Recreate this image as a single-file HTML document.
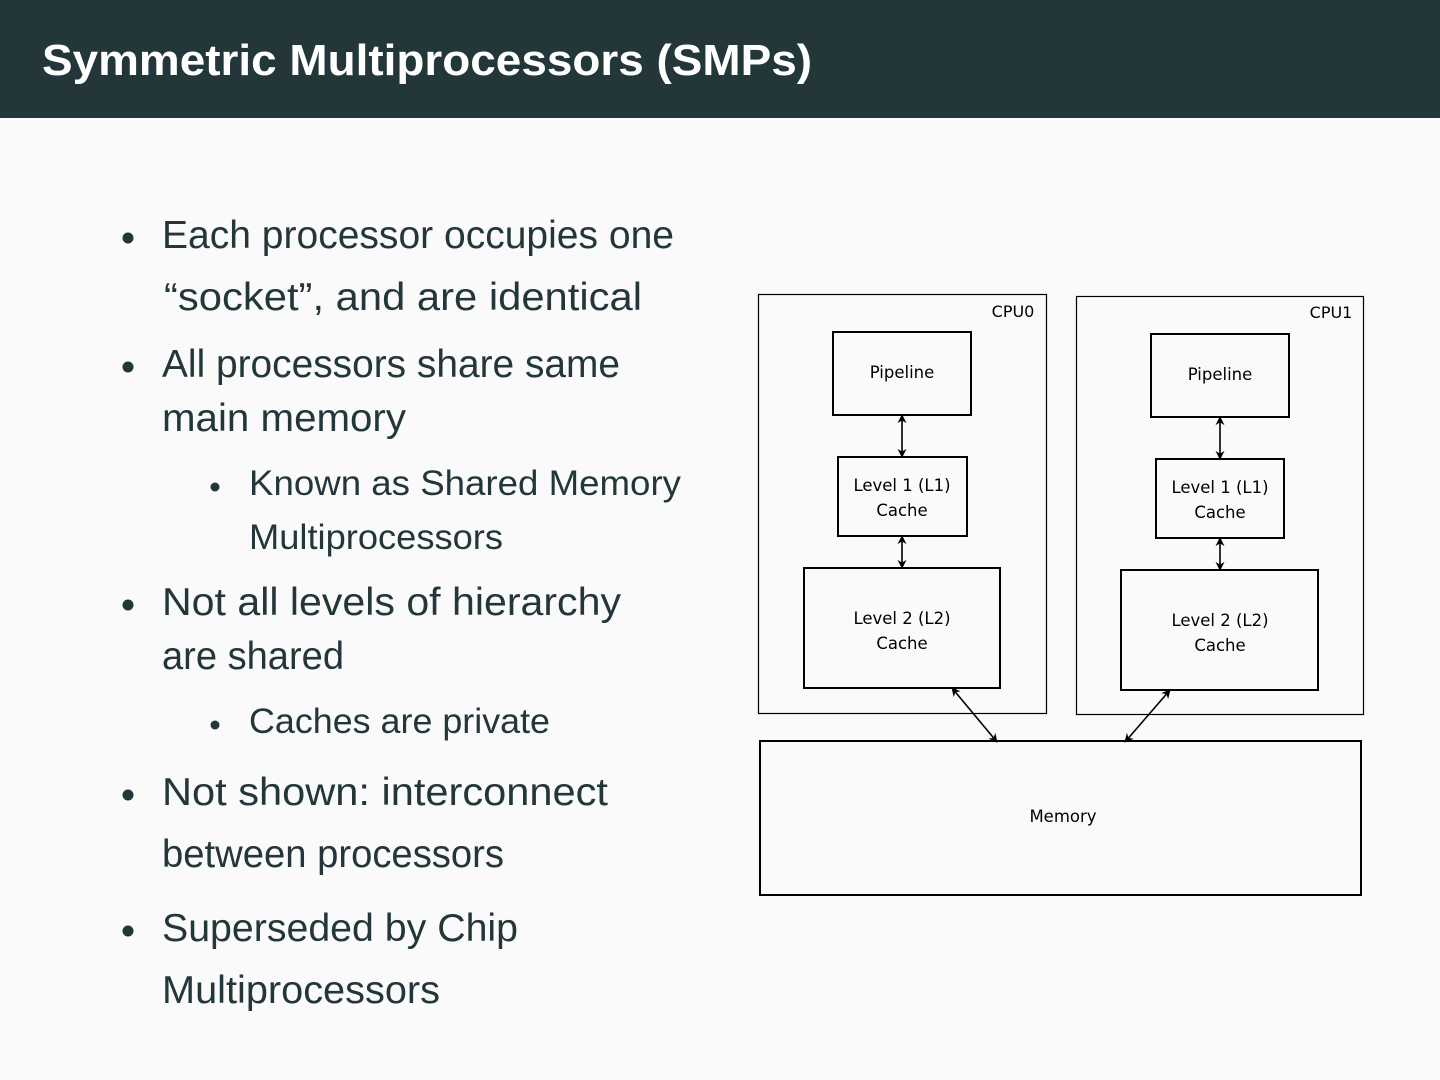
<!DOCTYPE html>
<html><head><meta charset="utf-8"><style>
html,body{margin:0;padding:0;background:#fafafa;}
svg{display:block}
</style></head><body>
<svg width="1440" height="1080" viewBox="0 0 1440 1080" xmlns="http://www.w3.org/2000/svg">
<defs>
<marker id="a" viewBox="0 0 10 10" refX="9" refY="5" markerWidth="10" markerHeight="9" orient="auto-start-reverse" markerUnits="userSpaceOnUse"><path d="M0,0 L10,5 L0,10 L3,5 z" fill="#000"/></marker>
</defs>
<rect x="0" y="0" width="1440" height="1080" fill="#fafafa"/>
<rect x="0" y="0" width="1440" height="118" fill="#23373b"/>
<text x="42" y="75" font-family="Liberation Sans, sans-serif" font-size="44" font-weight="bold" fill="#fff" textLength="770" lengthAdjust="spacingAndGlyphs">Symmetric Multiprocessors (SMPs)</text>
<g font-family="Liberation Sans, sans-serif" fill="#23373b" font-size="39">
<circle cx="128" cy="238" r="5.5"/>
<text x="162" y="248" textLength="512" lengthAdjust="spacingAndGlyphs">Each processor occupies one</text>
<text x="164" y="310" textLength="478" lengthAdjust="spacingAndGlyphs">“socket”, and are identical</text>
<circle cx="128" cy="367" r="5.5"/>
<text x="162" y="377" textLength="458" lengthAdjust="spacingAndGlyphs">All processors share same</text>
<text x="162" y="431" textLength="244" lengthAdjust="spacingAndGlyphs">main memory</text>
<circle cx="215" cy="487" r="4.5"/>
<text x="249" y="495" font-size="35" textLength="432" lengthAdjust="spacingAndGlyphs">Known as Shared Memory</text>
<text x="249" y="549" font-size="35" textLength="254" lengthAdjust="spacingAndGlyphs">Multiprocessors</text>
<circle cx="128" cy="605" r="5.5"/>
<text x="162" y="615" textLength="459" lengthAdjust="spacingAndGlyphs">Not all levels of hierarchy</text>
<text x="162" y="669" textLength="182" lengthAdjust="spacingAndGlyphs">are shared</text>
<circle cx="215" cy="725" r="4.5"/>
<text x="249" y="733" font-size="35" textLength="301" lengthAdjust="spacingAndGlyphs">Caches are private</text>
<circle cx="128" cy="795" r="5.5"/>
<text x="162" y="805" textLength="446" lengthAdjust="spacingAndGlyphs">Not shown: interconnect</text>
<text x="162" y="867" textLength="342" lengthAdjust="spacingAndGlyphs">between processors</text>
<circle cx="128" cy="931" r="5.5"/>
<text x="162" y="941" textLength="356" lengthAdjust="spacingAndGlyphs">Superseded by Chip</text>
<text x="162" y="1003" textLength="278" lengthAdjust="spacingAndGlyphs">Multiprocessors</text>
</g>
<g fill="none" stroke="#000">
<rect x="758.5" y="294.5" width="288" height="419" stroke-width="1.2"/>
<rect x="1076.5" y="296.5" width="287" height="418" stroke-width="1.2"/>
<rect x="833" y="332" width="138" height="83" stroke-width="2"/>
<rect x="838" y="457" width="129" height="79" stroke-width="2"/>
<rect x="804" y="568" width="196" height="120" stroke-width="2"/>
<rect x="1151" y="334" width="138" height="83" stroke-width="2"/>
<rect x="1156" y="459" width="128" height="79" stroke-width="2"/>
<rect x="1121" y="570" width="197" height="120" stroke-width="2"/>
<rect x="760" y="741" width="601" height="154" stroke-width="2"/>
<g stroke-width="1.6" marker-start="url(#a)" marker-end="url(#a)">
<line x1="902" y1="415" x2="902" y2="457"/>
<line x1="902" y1="536" x2="902" y2="568"/>
<line x1="1220" y1="417" x2="1220" y2="459"/>
<line x1="1220" y1="538" x2="1220" y2="570"/>
<line x1="952" y1="688" x2="997" y2="742"/>
<line x1="1170" y1="690" x2="1125" y2="742"/>
</g>
</g>
<g font-family="DejaVu Sans, Liberation Sans, sans-serif" font-size="16.5" fill="#000" text-anchor="middle">
<text x="1013" y="317" font-size="16">CPU0</text>
<text x="1331" y="318" font-size="16">CPU1</text>
<text x="902" y="378">Pipeline</text>
<text x="902" y="491">Level 1 (L1)</text>
<text x="902" y="516">Cache</text>
<text x="902" y="624">Level 2 (L2)</text>
<text x="902" y="649">Cache</text>
<text x="1220" y="380">Pipeline</text>
<text x="1220" y="493">Level 1 (L1)</text>
<text x="1220" y="518">Cache</text>
<text x="1220" y="626">Level 2 (L2)</text>
<text x="1220" y="651">Cache</text>
<text x="1063" y="822">Memory</text>
</g>
</svg>
</body></html>
